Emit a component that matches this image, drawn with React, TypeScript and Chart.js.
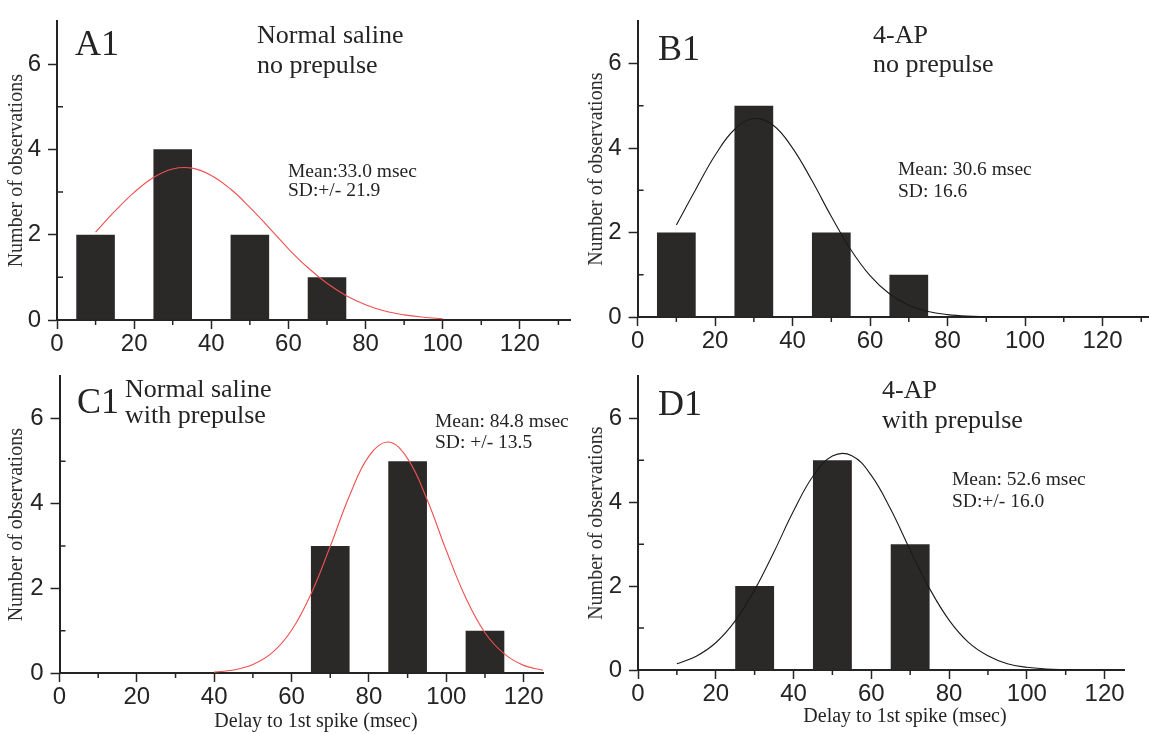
import { useEffect, useRef } from 'react';
import { Chart, registerables } from 'chart.js';
Chart.register(...registerables);

// ---- Data (bin centres in msec, counts) ----
const binsA = [10, 30, 50, 70];
const countsA = [2, 4, 2, 1];
const binsB = [10, 30, 50, 70];
const countsB = [2, 5, 2, 1];
const binsC = [70, 90, 110];
const countsC = [3, 5, 1];
const binsD = [30, 50, 70];
const countsD = [2, 5, 3];

// ---- Fitted normal curves ----
const curveAx = [10, 15, 20, 25, 30, 35, 40, 45, 50, 55, 60, 65, 70, 75, 80, 85, 90, 95, 100];
const curveAy = [2.06, 2.55, 2.99, 3.34, 3.54, 3.56, 3.39, 3.07, 2.64, 2.16, 1.67, 1.23, 0.86, 0.57, 0.36, 0.21, 0.12, 0.065, 0.03];
const curveBx = [10, 15, 20, 25, 30, 35, 40, 45, 50, 55, 60, 65, 70, 75, 80, 85, 90, 100, 132];
const curveBy = [2.18, 3.02, 3.83, 4.44, 4.7, 4.54, 4.0, 3.23, 2.38, 1.6, 0.98, 0.55, 0.28, 0.13, 0.056, 0.02, 0.01, 0, 0];
const curveCx = [40, 45, 50, 55, 60, 65, 70, 75, 80, 85, 90, 95, 100, 105, 110, 115, 120, 125];
const curveCy = [0.02, 0.07, 0.2, 0.48, 1.01, 1.86, 2.99, 4.19, 5.12, 5.45, 5.06, 4.1, 2.89, 1.78, 0.95, 0.45, 0.18, 0.065];
const curveDx = [10, 15, 20, 25, 30, 35, 40, 45, 50, 55, 60, 65, 70, 75, 80, 85, 90, 95, 100, 105, 110, 115, 125];
const curveDy = [0.15, 0.33, 0.65, 1.17, 1.91, 2.82, 3.79, 4.62, 5.1, 5.11, 4.64, 3.83, 2.86, 1.94, 1.19, 0.66, 0.34, 0.15, 0.064, 0.025, 0.01, 0, 0];

// ---- Ticks ----
const xMajorTicks = [0, 20, 40, 60, 80, 100, 120];
const xMinorTicks = [10, 30, 50, 70, 90, 110, 130];
const yMajorTicks = [0, 2, 4, 6];
const yMinorTicks = [1, 3, 5];

const yTitle = 'Number of observations';
const xTitle = 'Delay to 1st spike (msec)';

const SERIF = "'Liberation Serif', 'Times New Roman', serif";
const NARROW = "'Liberation Sans Narrow', 'Arial Narrow', 'Liberation Sans', Arial, sans-serif";
const INK = '#242424';

type TextItem = { t: string; x: number; y: number; size: number; align?: CanvasTextAlign };

type Panel = {
  key: string;
  left: number; top: number; w: number; h: number;
  pad: { left: number; right: number; top: number };
  yw: number; xh: number; xmax: number;
  bins: number[]; counts: number[];
  cx: number[]; cy: number[];
  curveColor: string;
  texts: TextItem[];
};

const panels: Panel[] = [
  {
    key: 'A', left: 0, top: 0, w: 580, h: 365,
    pad: { left: 5, right: 10, top: 12 }, yw: 52, xh: 45, xmax: 133,
    bins: binsA, counts: countsA, cx: curveAx, cy: curveAy, curveColor: '#f05050',
    texts: [
      { t: 'A1', x: 75, y: 55, size: 36 },
      { t: 'Normal saline', x: 257, y: 43, size: 26 },
      { t: 'no prepulse', x: 257, y: 73, size: 26 },
      { t: 'Mean:33.0 msec', x: 288, y: 177, size: 19.5 },
      { t: 'SD:+/- 21.9', x: 288, y: 196, size: 19.5 },
    ],
  },
  {
    key: 'B', left: 580, top: 0, w: 569, h: 365,
    pad: { left: 5, right: 0, top: 9 }, yw: 52.6, xh: 48, xmax: 132,
    bins: binsB, counts: countsB, cx: curveBx, cy: curveBy, curveColor: '#1a1a1a',
    texts: [
      { t: 'B1', x: 78, y: 60, size: 36 },
      { t: '4-AP', x: 293, y: 43, size: 26 },
      { t: 'no prepulse', x: 293, y: 72, size: 26 },
      { t: 'Mean: 30.6 msec', x: 318, y: 175, size: 19.5 },
      { t: 'SD: 16.6', x: 318, y: 197, size: 19.5 },
    ],
  },
  {
    key: 'C', left: 0, top: 355, w: 580, h: 379,
    pad: { left: 5, right: 37, top: 10 }, yw: 54.5, xh: 61, xmax: 125,
    bins: binsC, counts: countsC, cx: curveCx, cy: curveCy, curveColor: '#f05050',
    texts: [
      { t: 'C1', x: 77, y: 58, size: 36 },
      { t: 'Normal saline', x: 125, y: 42, size: 26 },
      { t: 'with prepulse', x: 125, y: 68, size: 26 },
      { t: 'Mean: 84.8 msec', x: 435, y: 72, size: 19.5 },
      { t: 'SD: +/- 13.5', x: 435, y: 93, size: 19.5 },
      { t: xTitle, x: 316, y: 372, size: 20, align: 'center' },
    ],
  },
  {
    key: 'D', left: 580, top: 355, w: 569, h: 379,
    pad: { left: 5, right: 25, top: 6 }, yw: 53, xh: 64, xmax: 125,
    bins: binsD, counts: countsD, cx: curveDx, cy: curveDy, curveColor: '#1a1a1a',
    texts: [
      { t: 'D1', x: 78, y: 60, size: 36 },
      { t: '4-AP', x: 302, y: 43, size: 26 },
      { t: 'with prepulse', x: 302, y: 73, size: 26 },
      { t: 'Mean: 52.6 msec', x: 372, y: 130, size: 19.5 },
      { t: 'SD:+/- 16.0', x: 372, y: 152, size: 19.5 },
      { t: xTitle, x: 325, y: 367, size: 20, align: 'center' },
    ],
  },
];

function PanelChart({ p }: { p: Panel }) {
  const ref = useRef<HTMLCanvasElement | null>(null);
  useEffect(() => {
    if (!ref.current) return;
    const extras = {
      id: 'extras' + p.key,
      afterDraw(chart: any) {
        const { ctx } = chart;
        const x = chart.scales.x;
        const y = chart.scales.y;
        ctx.save();
        ctx.strokeStyle = INK;
        ctx.lineWidth = 1.5;
        ctx.beginPath();
        for (const v of xMinorTicks) {
          const px = x.getPixelForValue(v);
          if (px > x.right) continue;
          ctx.moveTo(px, y.bottom);
          ctx.lineTo(px, y.bottom + 5);
        }
        for (const v of yMinorTicks) {
          const py = y.getPixelForValue(v);
          ctx.moveTo(x.left, py);
          ctx.lineTo(x.left + 6, py);
        }
        ctx.stroke();
        ctx.fillStyle = INK;
        ctx.textBaseline = 'alphabetic';
        for (const it of p.texts) {
          ctx.font = `${it.size}px ${SERIF}`;
          ctx.textAlign = it.align || 'left';
          ctx.fillText(it.t, it.x, it.y);
        }
        ctx.restore();
      },
    };
    const chart = new Chart(ref.current, {
      type: 'bar',
      data: {
        datasets: [
          {
            type: 'line',
            data: p.cx.map((v, i) => ({ x: v, y: p.cy[i] })),
            borderColor: p.curveColor,
            borderWidth: 1.1,
            pointRadius: 0,
            tension: 0.4,
            fill: false,
          } as any,
          {
            type: 'bar',
            data: p.bins.map((v, i) => ({ x: v, y: p.counts[i] })),
            backgroundColor: '#2b2828',
            borderWidth: 0,
            barPercentage: 0.5,
            categoryPercentage: 1,
          } as any,
        ],
      },
      options: {
        animation: false,
        responsive: false,
        maintainAspectRatio: false,
        devicePixelRatio: 1,
        layout: { padding: { left: p.pad.left, right: p.pad.right, top: p.pad.top, bottom: 0 } },
        plugins: { legend: { display: false }, tooltip: { enabled: false } },
        scales: {
          x: {
            type: 'linear',
            min: 0,
            max: p.xmax,
            offset: false,
            afterBuildTicks: (s: any) => { s.ticks = xMajorTicks.map((v) => ({ value: v })); },
            afterFit: (s: any) => { s.height = p.xh; },
            grid: { display: true, drawOnChartArea: false, drawTicks: true, tickLength: 9, tickColor: INK, tickWidth: 1.5, offset: false },
            border: { display: true, color: INK, width: 2 },
            ticks: { autoSkip: false, maxRotation: 0, padding: 1, color: INK, font: { family: NARROW, size: 24 } },
          },
          y: {
            type: 'linear',
            min: 0,
            max: 7,
            afterBuildTicks: (s: any) => { s.ticks = yMajorTicks.map((v) => ({ value: v })); },
            afterFit: (s: any) => { s.width = p.yw; },
            grid: { display: true, drawOnChartArea: false, drawTicks: true, tickLength: 9, tickColor: INK, tickWidth: 1.5 },
            border: { display: true, color: INK, width: 2 },
            ticks: { padding: 7, color: INK, font: { family: NARROW, size: 24 } },
            title: { display: true, text: yTitle, color: '#2e2e2e', font: { family: SERIF, size: 20 }, padding: { top: 0, bottom: 0 } },
          },
        },
      } as any,
      plugins: [extras],
    });
    return () => chart.destroy();
  }, [p]);
  return (
    <canvas
      ref={ref}
      width={p.w}
      height={p.h}
      style={{ position: 'absolute', left: p.left, top: p.top, width: p.w, height: p.h }}
    />
  );
}

export default function App() {
  return (
    <div style={{ position: 'absolute', left: 0, top: 0, width: 1149, height: 734, background: '#fff', overflow: 'hidden' }}>
      {panels.map((p) => (
        <PanelChart key={p.key} p={p} />
      ))}
    </div>
  );
}
